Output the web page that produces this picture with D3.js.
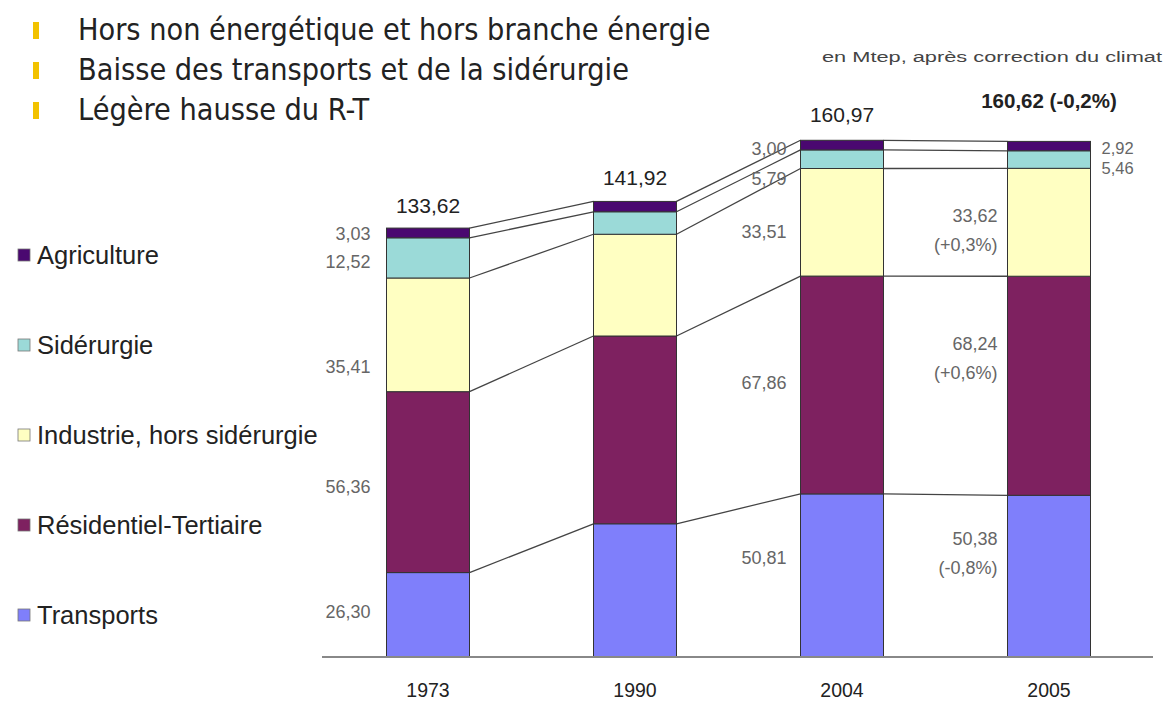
<!DOCTYPE html>
<html><head><meta charset="utf-8">
<script src="https://cdn.jsdelivr.net/npm/d3@7"></script>
<style>body{margin:0;background:#fff}svg{display:block}</style>
</head><body>
<script>
// ---- data ----
const years = ["1973", "1990", "2004", "2005"];
const seriesNames = ["Transports", "Résidentiel-Tertiaire", "Industrie, hors sidérurgie", "Sidérurgie", "Agriculture"];
const transports = [26.30, 41.50, 50.81, 50.38];
const residentiel = [56.36, 58.50, 67.86, 68.24];
const industrie = [35.41, 31.70, 33.51, 33.62];
const siderurgie = [12.52, 7.00, 5.79, 5.46];
const agriculture = [3.03, 3.22, 3.00, 2.92];
const totalLabels = ["133,62", "141,92", "160,97", "160,62 (-0,2%)"];
const changes2005 = ["(-0,8%)", "(+0,6%)", "(+0,3%)"];
const bullets = ["Hors non énergétique et hors branche énergie", "Baisse des transports et de la sidérurgie", "Légère hausse du R-T"];
const legendOrder = ["Agriculture", "Sidérurgie", "Industrie, hors sidérurgie", "Résidentiel-Tertiaire", "Transports"];
const colors = ["#7f7ffb", "#7e2160", "#ffffc2", "#9bdad8", "#4a0870"];

const W = 1167, H = 701;
const svg = d3.select("body").append("svg").attr("width", W).attr("height", H);
const fmt = v => d3.format(".2f")(v).replace(".", ",");
const FONT = "Liberation Sans, Arial, sans-serif";

const seriesVals = [transports, residentiel, industrie, siderurgie, agriculture];
const table = years.map((y, i) => {
  const o = {year: y};
  seriesNames.forEach((s, k) => o[s] = seriesVals[k][i]);
  return o;
});
const stack = d3.stack().keys(seriesNames)(table);

const baseY = 657;
const y = d3.scaleLinear().domain([0, 170]).range([baseY, baseY - 170 * 3.21]);
const x = d3.scalePoint().domain(years).range([428, 1049]);
const bw = 83;
const color = d3.scaleOrdinal().domain(seriesNames).range(colors);

// bullets
const bg = svg.append("g");
bullets.forEach((t, i) => {
  bg.append("rect").attr("x", 33).attr("y", 22 + i * 40).attr("width", 6).attr("height", 17).attr("fill", "#f2c200");
  bg.append("text").attr("x", 78).attr("y", 40 + i * 40).text(t)
    .attr("font-family", "DejaVu Sans Condensed, DejaVu Sans").attr("font-size", 30.3).attr("fill", "#222");
});

svg.append("text").attr("x", 1162).attr("y", 62).attr("text-anchor", "end")
  .attr("font-family", FONT).attr("font-size", 15.5).attr("fill", "#444")
  .attr("textLength", 340).attr("lengthAdjust", "spacingAndGlyphs")
  .text("en Mtep, après correction du climat");

// connector lines
const lg = svg.append("g").attr("stroke", "#444").attr("stroke-width", 1.3).attr("fill", "none");
stack.forEach(layer => {
  for (let i = 0; i < years.length - 1; i++) {
    lg.append("line")
      .attr("x1", x(years[i]) + bw / 2).attr("y1", y(layer[i][1]))
      .attr("x2", x(years[i + 1]) - bw / 2).attr("y2", y(layer[i + 1][1]));
  }
});

// bars
svg.append("g").selectAll("g").data(stack).join("g")
  .attr("fill", d => color(d.key))
  .selectAll("rect").data(d => d).join("rect")
  .attr("x", d => x(d.data.year) - bw / 2)
  .attr("width", bw)
  .attr("y", d => y(d[1]))
  .attr("height", d => y(d[0]) - y(d[1]))
  .attr("stroke", "#333").attr("stroke-width", 1);

// axis
svg.append("line").attr("x1", 322).attr("x2", 1153).attr("y1", baseY).attr("y2", baseY)
  .attr("stroke", "#888").attr("stroke-width", 2);
svg.append("g").selectAll("text").data(years).join("text")
  .attr("x", d => x(d)).attr("y", 697).attr("text-anchor", "middle")
  .attr("font-family", FONT).attr("font-size", 19.5).attr("fill", "#222").text(d => d);

// totals
const totOff = [15, 16, 18, 33];
svg.append("g").selectAll("text").data(years).join("text")
  .attr("x", d => x(d))
  .attr("y", (d, i) => y(stack[4][i][1]) - totOff[i])
  .attr("text-anchor", "middle")
  .attr("font-family", FONT).attr("font-size", (d, i) => i === 3 ? 20.5 : 21)
  .attr("font-weight", (d, i) => i === 3 ? "bold" : "normal")
  .attr("fill", "#222").text((d, i) => totalLabels[i]);

const lab = svg.append("g").attr("font-family", FONT).attr("font-size", 18).attr("fill", "#666");
const mid = (k, i) => y((stack[k][i][0] + stack[k][i][1]) / 2);
// 1973 labels
const off73 = [3, 11, 38, 10, 7];
seriesNames.forEach((s, k) => {
  lab.append("text").attr("x", x("1973") - bw / 2 - 16).attr("y", mid(k, 0) + off73[k])
    .attr("text-anchor", "end").text(fmt(seriesVals[k][0]));
});
// 2004 labels
const off04 = [-11, 4, 16, 26, 10];
seriesNames.forEach((s, k) => {
  lab.append("text").attr("x", x("2004") - bw / 2 - 14).attr("y", mid(k, 2) + off04[k])
    .attr("text-anchor", "end").text(fmt(seriesVals[k][2]));
});
// 2005 labels
const off05 = [-31, -36, 0];
[0, 1, 2].forEach(k => {
  const xx = x("2005") - bw / 2 - 10;
  const t = lab.append("text").attr("x", xx).attr("y", mid(k, 3) + off05[k]).attr("text-anchor", "end");
  t.append("tspan").text(fmt(seriesVals[k][3]));
  t.append("tspan").attr("x", xx).attr("dy", 29).text(changes2005[k]);
});
[[4, 8], [3, 14]].forEach(([k, o]) => {
  lab.append("text").attr("x", x("2005") + bw / 2 + 11).attr("y", mid(k, 3) + o)
    .attr("font-size", 16.5).text(fmt(seriesVals[k][3]));
});

// legend
const leg = svg.append("g");
legendOrder.forEach((s, i) => {
  const yy = 255 + i * 90;
  leg.append("rect").attr("x", 18).attr("y", yy - 6).attr("width", 12).attr("height", 12)
    .attr("fill", color(s)).attr("stroke", "#777").attr("stroke-width", 0.8);
  leg.append("text").attr("x", 37).attr("y", yy + 9).text(s)
    .attr("font-family", FONT).attr("font-size", 25.5).attr("fill", "#222");
});
</script>
</body></html>
